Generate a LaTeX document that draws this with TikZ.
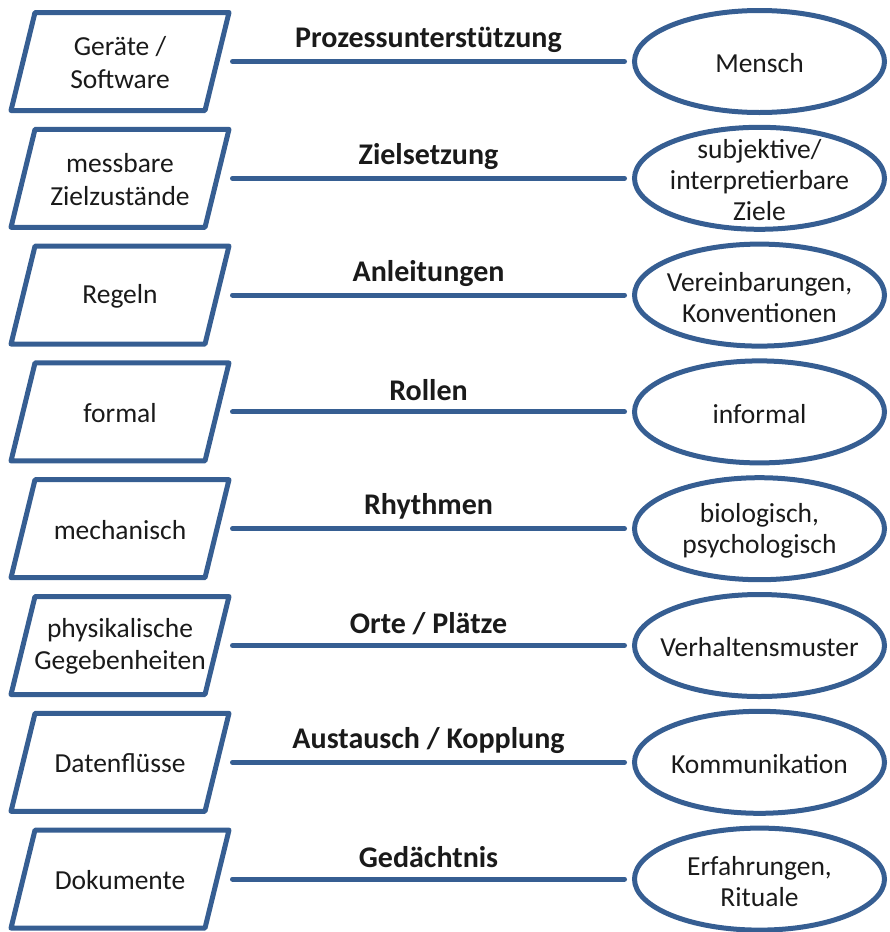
\documentclass[tikz,border=0pt]{standalone}
\usepackage{fontspec}
\setmainfont{Carlito}
\usetikzlibrary{shapes.geometric}
\definecolor{frame}{RGB}{54,94,146}
\definecolor{ink}{RGB}{26,26,26}

% one row: left parallelogram, connector with topic, right ellipse
\newcommand\diagrow[4]{%
  \pgfmathsetmacro\rowy{61.5+116.8*(#1-1)}%
  \node[side] (L#1) at (120,\rowy+1) {#2};
  \draw[rhomb] ([shift={(-85,-50)}]L#1.center) -- ([shift={(109,-50)}]L#1.center)
    -- ([shift={(85,48)}]L#1.center) -- ([shift={(-109,48)}]L#1.center) -- cycle;
  \node[goal] (R#1) at (759.5,\rowy) {};
  \node[txt, font=\fontsize{27.5}{31}\selectfont] (RT#1) at ([yshift=-2pt]R#1.center) {#4};
  \draw[link] ([yshift=1pt]L#1.east) -- (R#1.west);
  \node[topic] (T#1) at (428.5,\rowy-22) {#3};
}

\begin{document}
\begin{tikzpicture}[x=1pt,y=-1pt,
  txt/.style={text=ink, align=center, inner sep=0pt, font=\fontsize{27.5}{32.5}\selectfont},
  side/.style={txt, rectangle, minimum width=225pt, minimum height=98pt,
    outer sep=0pt},
  goal/.style={ellipse, draw=frame, line width=5pt, minimum width=250pt,
    minimum height=102pt, inner sep=0pt, outer sep=0pt},
  rhomb/.style={draw=frame, line width=5pt, line join=round},
  link/.style={draw=frame, line width=5pt, line cap=round, shorten >=10pt},
  topic/.style={text=ink, font=\bfseries\fontsize{30}{34}\selectfont}]
\useasboundingbox (0,0) rectangle (890,932);

\diagrow{1}{Geräte /\\Software}{Prozessunterstützung}{Mensch}
\diagrow{2}{messbare\\Zielzustände}{Zielsetzung}{subjektive/\\interpretierbare\\Ziele}
\diagrow{3}{Regeln}{Anleitungen}{Vereinbarungen,\\Konventionen}
\diagrow{4}{formal}{Rollen}{informal}
\diagrow{5}{mechanisch}{Rhythmen}{biologisch,\\psychologisch}
\diagrow{6}{physikalische\\Gegebenheiten}{Orte / Plätze}{Verhaltensmuster}
\diagrow{7}{Datenflüsse}{Austausch / Kopplung}{Kommunikation}
\diagrow{8}{Dokumente}{Gedächtnis}{Erfahrungen,\\Rituale}
\end{tikzpicture}
\end{document}
